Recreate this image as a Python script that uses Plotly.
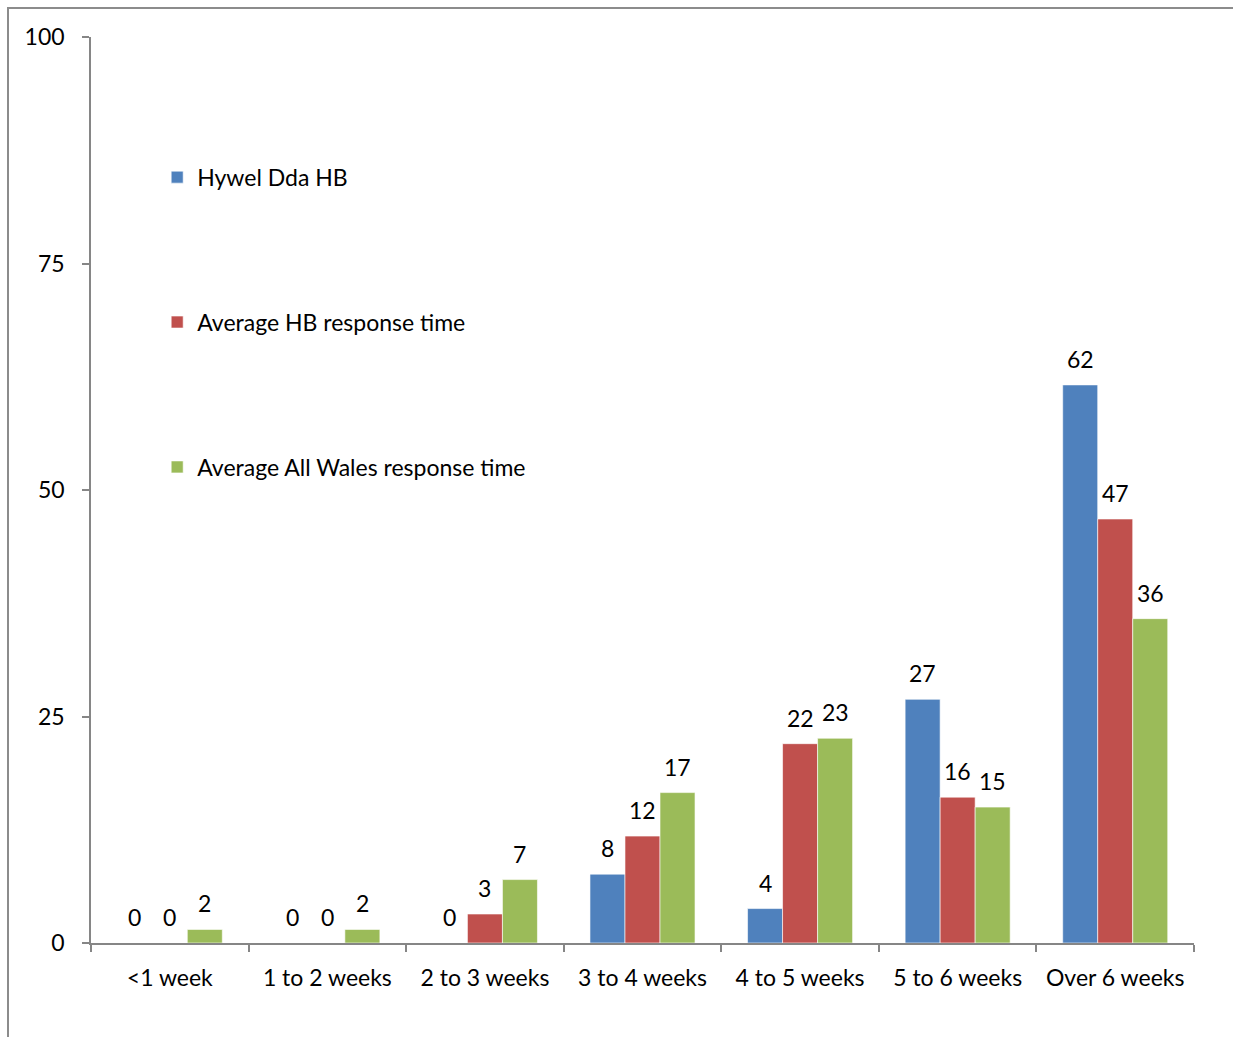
import plotly.graph_objects as go

# Response time bands
categories = ["<1 week", "1 to 2 weeks", "2 to 3 weeks", "3 to 4 weeks",
              "4 to 5 weeks", "5 to 6 weeks", "Over 6 weeks"]

# Percentage of responses per band
hywel_dda = [0, 0, 0, 7.6, 3.8, 26.9, 61.6]
avg_hb = [0, 0, 3.2, 11.8, 22.0, 16.1, 46.8]
avg_wales = [1.5, 1.5, 7.0, 16.6, 22.6, 15.0, 35.8]

series = [
    ("Hywel Dda HB", hywel_dda, "#4F81BD"),
    ("Average HB response time", avg_hb, "#C0504D"),
    ("Average All Wales response time", avg_wales, "#9BBB59"),
]

FONT = "Lato"
FS = 23
fig = go.Figure()

bar_gap = 1 / 3
bar_w = (1 - bar_gap) / len(series)

annotations = []
for k, (name, vals, color) in enumerate(series):
    fig.add_trace(go.Bar(
        x=categories, y=vals, name=name, legendgroup=name,
        marker=dict(color=color, line=dict(color="rgba(255,255,255,0.6)", width=1)),
    ))
    offset = (k - 1) * bar_w
    for i, v in enumerate(vals):
        annotations.append(dict(
            x=i + offset, y=v, xref="x", yref="y",
            text=f"{round(v):.0f}", showarrow=False,
            yanchor="middle", yshift=26,
            font=dict(family=FONT, size=FS, color="black"),
        ))

fig.update_layout(
    width=1233, height=1037,
    margin=dict(l=91, r=39, t=37, b=94),
    paper_bgcolor="white", plot_bgcolor="white",
    barmode="group", bargap=bar_gap, bargroupgap=0,
    font=dict(family=FONT, size=FS, color="black"),
    annotations=annotations,
    legend=dict(
        x=0.06, y=0.869, xanchor="left", yanchor="top",
        tracegroupgap=112, bgcolor="rgba(0,0,0,0)",
        font=dict(family=FONT, size=FS, color="black"),
    ),
    xaxis=dict(
        type="category", showline=True, linecolor="#868686", linewidth=1.5,
        ticks="outside", ticklen=7, tickcolor="#868686", tickwidth=1.5,
        tickson="boundaries", showgrid=False, ticklabelstandoff=14,
    ),
    yaxis=dict(
        range=[0, 100], tickvals=[0, 25, 50, 75, 100],
        showline=True, linecolor="#868686", linewidth=1.5,
        ticks="outside", ticklen=7, tickcolor="#868686", tickwidth=1.5,
        showgrid=False, zeroline=False, ticklabelstandoff=13,
    ),
    shapes=[dict(
        type="rect", xref="paper", yref="paper",
        x0=(8 - 91) / 1103, x1=(1245 - 91) / 1103,
        y0=(943 - 1045) / 906, y1=(943 - 8) / 906,
        line=dict(color="#8c8c8c", width=2), fillcolor="rgba(0,0,0,0)",
        layer="below",
    )],
)

fig.write_html("out.html")
